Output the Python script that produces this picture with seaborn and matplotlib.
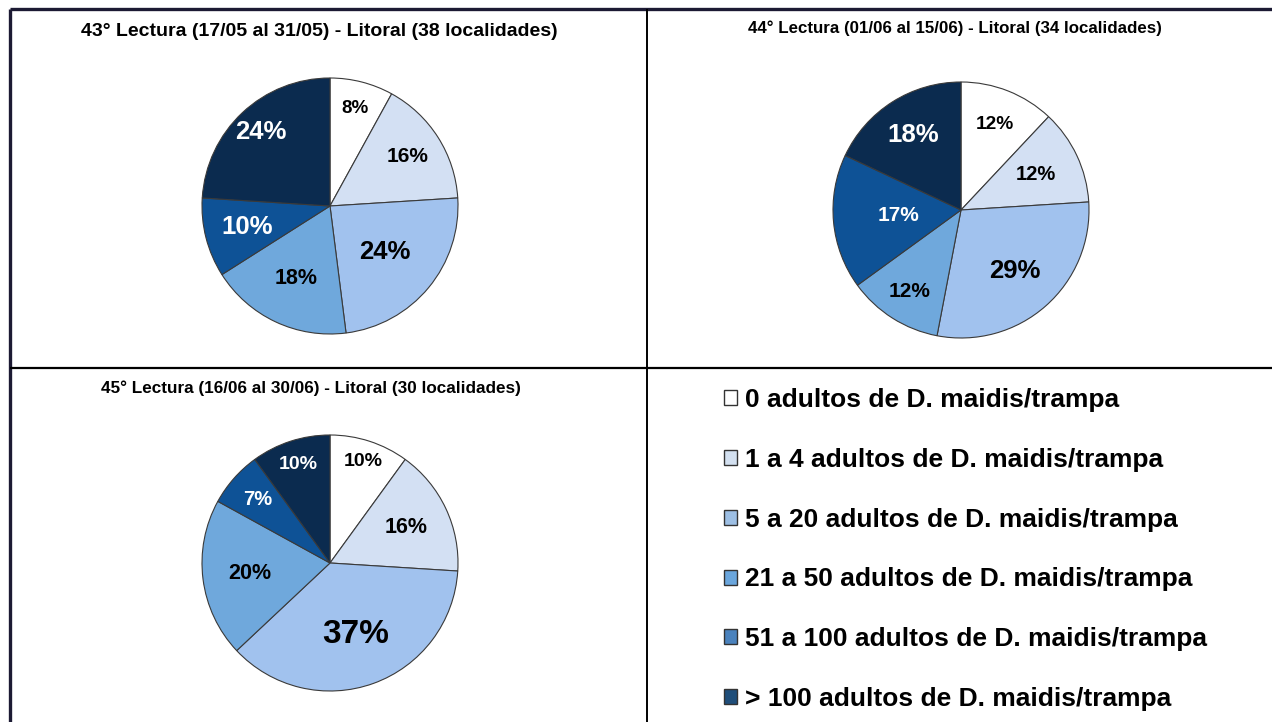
import numpy as np
import matplotlib
matplotlib.use('Agg')
import matplotlib.pyplot as plt
from matplotlib.patches import Patch
from matplotlib.lines import Line2D
import seaborn as sns

# categories (legend) and the three readings
categorias = [
    "0 adultos de D. maidis/trampa",
    "1 a 4 adultos de D. maidis/trampa",
    "5 a 20 adultos de D. maidis/trampa",
    "21 a 50 adultos de D. maidis/trampa",
    "51 a 100 adultos de D. maidis/trampa",
    "> 100 adultos de D. maidis/trampa",
]
titulos = [
    "43° Lectura (17/05 al 31/05) - Litoral (38 localidades)",
    "44° Lectura (01/06 al 15/06) - Litoral (34 localidades)",
    "45° Lectura (16/06 al 30/06) - Litoral (30 localidades)",
]
lectura_43 = [8, 16, 24, 18, 10, 24]
lectura_44 = [12, 12, 29, 12, 17, 18]
lectura_45 = [10, 16, 37, 20, 7, 10]

# styling
W, H = 1272, 722
colores_pie = ['#ffffff', '#d3e0f3', '#a1c2ee', '#6fa8dc', '#0e5296', '#0b2b4f']
colores_leyenda = ['#ffffff', '#d3e0f0', '#9dbfe4', '#6aa6dd', '#4a82bd', '#1f4e7a']
color_texto = ['black', 'black', 'black', 'black', 'white', 'white']

sns.set_theme(style="white")
plt.rcParams['font.family'] = ['Liberation Sans', 'DejaVu Sans']
plt.rcParams['text.color'] = 'black'

fig = plt.figure(figsize=(W / 100, H / 100), dpi=100)
fig.patch.set_facecolor('white')

paneles = [
    # values, title, pie centre (px), title pos (px), title size, label distances, label sizes
    (lectura_43, titulos[0], (330, 206), (319, 31), 14,
     [0.79, 0.72, 0.56, 0.63, 0.67, 0.79], [13.5, 15, 18.5, 15.5, 18.5, 18.5]),
    (lectura_44, titulos[1], (961, 210), (955, 28), 12.2,
     [0.72, 0.65, 0.64, 0.75, 0.49, 0.69], [13.8, 14.5, 18.5, 15, 15, 18.5]),
    (lectura_45, titulos[2], (330, 563), (311, 388), 12.3,
     [0.83, 0.66, 0.59, 0.63, 0.75, 0.81], [14, 15.5, 24, 15.5, 14.5, 14]),
]

R = 128
for valores, titulo, (cx, cy), (tx, ty), tsize, dists, sizes in paneles:
    ax = fig.add_axes([(cx - R) / W, (H - cy - R) / H, 2 * R / W, 2 * R / H])
    wedges, _, autotexts = ax.pie(
        valores, colors=colores_pie, startangle=90, counterclock=False,
        autopct=lambda p: f'{p:.0f}%',
        wedgeprops=dict(edgecolor='#3a3a3a', linewidth=0.8),
    )
    for w, t, d, s, c in zip(wedges, autotexts, dists, sizes, color_texto):
        mid = np.deg2rad((w.theta1 + w.theta2) / 2)
        t.set_position((d * np.cos(mid), d * np.sin(mid)))
        t.set_fontsize(s)
        t.set_fontweight('bold')
        t.set_color(c)
    ax.set_xlim(-1.0, 1.0)
    ax.set_ylim(-1.0, 1.0)
    ax.set_aspect('equal')
    ax.axis('off')
    fig.text(tx / W, 1 - ty / H, titulo, ha='center', va='center',
             fontsize=tsize, fontweight='bold', color='black')

# legend in the lower right panel
handles = [Patch(facecolor=c, edgecolor='#333333', linewidth=1.0) for c in colores_leyenda]
fig.legend(handles, categorias, loc='upper left', bbox_to_anchor=(700 / W, 1 - 364 / H),
           frameon=False, prop=dict(size=19, weight='bold'), labelcolor='black',
           handlelength=0.5, handleheight=0.5, handletextpad=0.3, labelspacing=1.36)

# panel borders
def linea(x0, y0, x1, y1, lw, color):
    fig.add_artist(Line2D([x0 / W, x1 / W], [1 - y0 / H, 1 - y1 / H],
                          transform=fig.transFigure, linewidth=lw, color=color,
                          solid_capstyle='butt'))

linea(10, 9, 10, H, 2.4, '#1c1a33')
linea(10, 9, W, 9, 2.4, '#1c1a33')
linea(647, 9, 647, H, 1.4, 'black')
linea(10, 368, W, 368, 1.6, 'black')

plt.savefig('out.png', dpi=100)
